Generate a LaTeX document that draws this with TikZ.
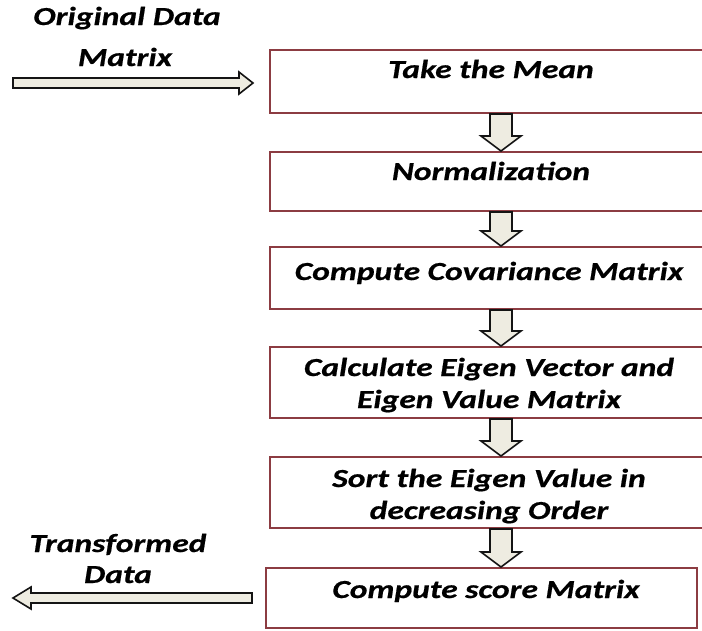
\documentclass[tikz,border=0pt]{standalone}
\usepackage{fontspec}
\setmainfont{Carlito}[FakeStretch=1.29, FakeBold=0.6]
\usetikzlibrary{positioning,calc}
\definecolor{pcaedge}{RGB}{140,60,66}
\definecolor{pcaarrow}{RGB}{238,236,225}
\definecolor{pcaline}{RGB}{20,20,20}

% fat arrow pointing down, from the bottom of #1 to the top of #2
\newcommand{\blockdown}[2]{%
  \draw[blockarrow] let \p1=(#1.south), \p2=(#2.north), \p3=(axis) in
    (\x3-11pt,\y1) -- (\x3+11pt,\y1) -- (\x3+11pt,\y2+15pt) -- (\x3+20pt,\y2+15pt)
    -- (\x3,\y2) -- (\x3-20pt,\y2+15pt) -- (\x3-11pt,\y2+15pt) -- cycle;}
% fat arrow pointing sideways, from #1 to #2, head base shifted #3 from the tip
\newcommand{\blockside}[3]{%
  \draw[blockarrow] let \p1=(#1), \p2=(#2), \p4=($(#2)+(#3,0)$) in
    (\x1,\y1+5pt) -- (\x4,\y1+5pt) -- (\x4,\y1+11pt) -- (\x2,\y1)
    -- (\x4,\y1-11pt) -- (\x4,\y1-5pt) -- (\x1,\y1-5pt) -- cycle;}

\begin{document}
\begin{tikzpicture}[
    x=1pt, y=-1pt,
    stepbox/.style={draw=pcaedge, line width=2pt, fill=white, minimum width=460pt, inner sep=0pt},
    steptext/.style={font=\fontsize{26}{32}\selectfont\bfseries\itshape, inner sep=0pt, align=center, anchor=base},
    blockarrow/.style={draw=pcaline, fill=pcaarrow, line width=1.6pt, line join=miter},
]
  \useasboundingbox (0,0) rectangle (702,630);
  \clip (0,0) rectangle (702,630);
  \coordinate (axis) at (501,0);

  \node[stepbox, minimum height=63pt] (mean) at (500,81.5) {};
  \node[stepbox, minimum height=59pt] (norm) at (500,181.5) {};
  \node[stepbox, minimum height=62pt] (cov) at (500,278) {};
  \node[stepbox, minimum height=71pt] (eigen) at (500,382.5) {};
  \node[stepbox, minimum height=71pt] (sort) at (500,492.5) {};
  \node[stepbox, minimum height=60pt, minimum width=431pt] (score) at (481.5,598) {};

  \node[steptext] (meantxt) at (491,78) {Take the Mean};
  \node[steptext] (normtxt) at (491,180) {Normalization};
  \node[steptext] (covtxt) at (489,280) {Compute Covariance Matrix};
  \node[steptext] (eigentxt) at (489,408) {Calculate Eigen Vector and\\Eigen Value Matrix};
  \node[steptext] (sorttxt) at (489,519) {Sort the Eigen Value in\\decreasing Order};
  \node[steptext] (scoretxt) at (486,598) {Compute score Matrix};

  \blockdown{mean}{norm}
  \blockdown{norm}{cov}
  \blockdown{cov}{eigen}
  \blockdown{eigen}{sort}
  \blockdown{sort}{score}

  % data in and out
  \coordinate (datain) at (13,83);
  \coordinate (datainend) at (253,83);
  \coordinate (dataout) at (13,598);
  \coordinate (dataoutstart) at (252,598);
  \blockside{datain}{datainend}{-14}
  \blockside{dataoutstart}{dataout}{18}

  \node[steptext] (intxt) at (127,25) {Original Data};
  \node[steptext] (inmat) at (125,66) {Matrix};
  \node[steptext] (outtxt) at (118,552) {Transformed};
  \node[steptext] (outdata) at (118,583) {Data};
\end{tikzpicture}
\end{document}
